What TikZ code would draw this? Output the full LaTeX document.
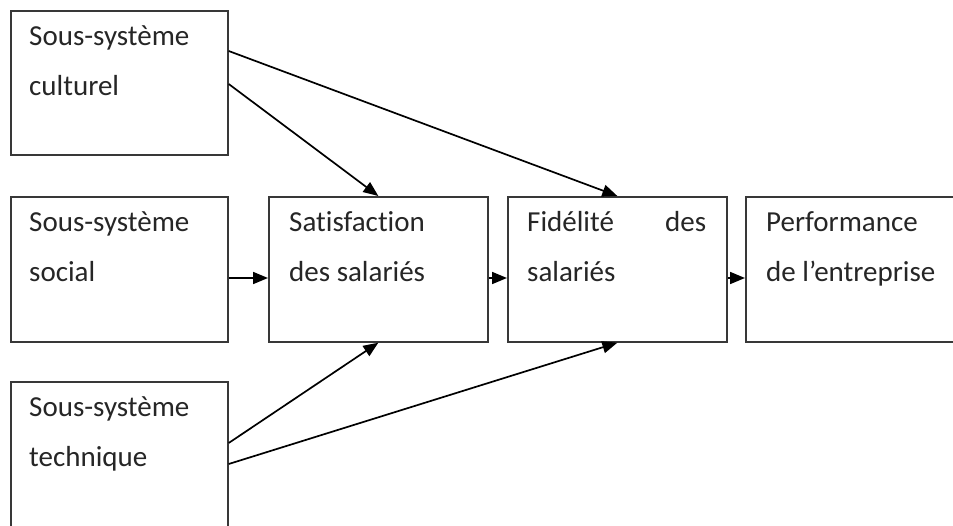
\documentclass[tikz,border=0pt]{standalone}
\usepackage{fontspec}
\setmainfont[Ligatures={NoCommon}]{Carlito}
\usetikzlibrary{arrows.meta}
\newcommand{\boxfont}{\fontsize{29}{50}\selectfont}
\newcommand{\twolines}[2]{\parbox[t]{#1}{\boxfont #2}}
\begin{document}
\begin{tikzpicture}[x=1pt,y=-1pt,
  blockbox/.style={draw=black!78, line width=1.7pt, inner sep=0pt, anchor=north west,
    minimum height=145pt},
  blocktext/.style={anchor=base west, inner sep=0pt, text=black!85},
  arr/.style={draw=black, line width=1.7pt, -{Triangle[length=15pt,width=12pt]}}]
  \clip (0,0) rectangle (953,525);
  \fill[white] (0,0) rectangle (953,525);

  % boxes
  \node[blockbox, minimum width=217pt, minimum height=144pt] (cult) at (10,10) {};
  \node[blockbox, minimum width=217pt] (soc) at (10,196) {};
  \node[blockbox, minimum width=217pt, minimum height=175pt] (tech) at (10,381) {};
  \node[blockbox, minimum width=219pt] (sat) at (268,196) {};
  \node[blockbox, minimum width=219pt] (fid) at (507,196) {};
  \node[blockbox, minimum width=225pt] (perf) at (745,196) {};

  % texts
  \node[blocktext] (tcult) at ([xshift=19pt,yshift=-35pt]cult.north west) {\twolines{180pt}{Sous-système\\culturel}};
  \node[blocktext] (tsoc) at ([xshift=19pt,yshift=-35pt]soc.north west) {\twolines{180pt}{Sous-système\\social}};
  \node[blocktext] (ttech) at ([xshift=19pt,yshift=-35pt]tech.north west) {\twolines{180pt}{Sous-système\\technique}};
  \node[blocktext] (tsat) at ([xshift=21pt,yshift=-35pt]sat.north west) {\twolines{180pt}{Satisfaction\\des salariés}};
  \node[blocktext] (tfid) at ([xshift=20pt,yshift=-35pt]fid.north west) {\twolines{179pt}{Fidélité\hfill des\\salariés}};
  \node[blocktext] (tperf) at ([xshift=21pt,yshift=-35pt]perf.north west) {\twolines{200pt}{Performance\\de l’entreprise}};

  % connectors
  \draw[arr] ([yshift=-74pt]cult.north east) -- (sat.north);
  \draw[arr] ([yshift=-41pt]cult.north east) -- (fid.north);
  \draw[arr] ([yshift=-82pt]soc.north east) -- ([yshift=-82pt]sat.north west);
  \draw[arr] ([yshift=-82pt]sat.north east) -- ([yshift=-82pt]fid.north west);
  \draw[arr] ([yshift=-82pt]fid.north east) -- ([yshift=-82pt]perf.north west);
  \draw[arr] ([yshift=-62pt]tech.north east) -- (sat.south);
  \draw[arr] ([yshift=-83pt]tech.north east) -- (fid.south);
\end{tikzpicture}
\end{document}
